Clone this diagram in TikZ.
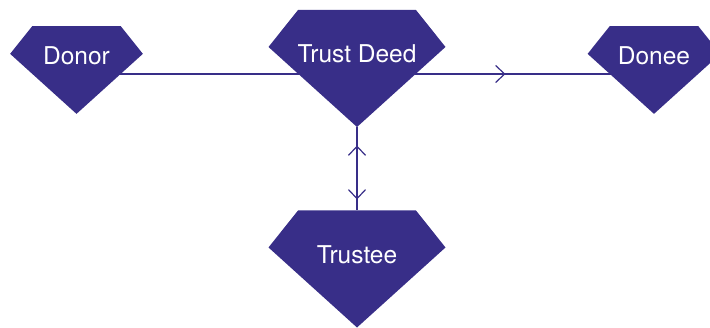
\documentclass[tikz,border=0pt]{standalone}
\usepackage{fontspec}
\setmainfont{TeX Gyre Heros}
\usetikzlibrary{arrows.meta,calc,decorations.markings,backgrounds}
\definecolor{deedblue}{RGB}{56,46,136}
\tikzset{
  gem/.style={inner sep=0pt, minimum width=#1*177pt, minimum height=#1*117pt,
    text depth=29pt, text=white, font=\fontsize{24.5}{29}\selectfont,
    path picture={\fill[deedblue]
      ($(path picture bounding box.north west)!0.1667!(path picture bounding box.north east)$) --
      ($(path picture bounding box.north west)!0.8333!(path picture bounding box.north east)$) --
      ($(path picture bounding box.south east)!0.684!(path picture bounding box.north east)$) --
      (path picture bounding box.south) --
      ($(path picture bounding box.south west)!0.684!(path picture bounding box.north west)$) -- cycle;}},
  gem/.default=1,
  link/.style={draw=deedblue, line width=1.2pt},
  barb/.tip={Straight Barb[length=9pt,width=17pt]}
}
\begin{document}
\begin{tikzpicture}[x=1pt, y=1pt]
        \useasboundingbox (0,0) rectangle (710,327);
        % Gems
        \node (donor) [gem=0.75] at (76.5,257) {Donor};
        \node (deed) [gem] at (357,258.5) {Trust Deed};
        \node (donee) [gem=0.75] at (654,257) {Donee};
        \node (trustee) [gem] at (357,58) {Trustee};
        \coordinate (linkrow) at (0,253);

        % Links
        \begin{scope}[on background layer]
        \draw[link] (donor |- linkrow) -- (deed |- linkrow);
        \draw[link, postaction={decorate},
          decoration={markings, mark=at position 0.5 with {\arrow{barb}}}]
          (deed |- linkrow) -- (donee |- linkrow);
        \end{scope}
        \draw[link, postaction={decorate},
          decoration={markings,
            mark=at position 0.22 with {\arrowreversed{barb}},
            mark=at position 0.87 with {\arrow{barb}}}]
          (deed.south) -- (trustee.north);
    \end{tikzpicture}
\end{document}
